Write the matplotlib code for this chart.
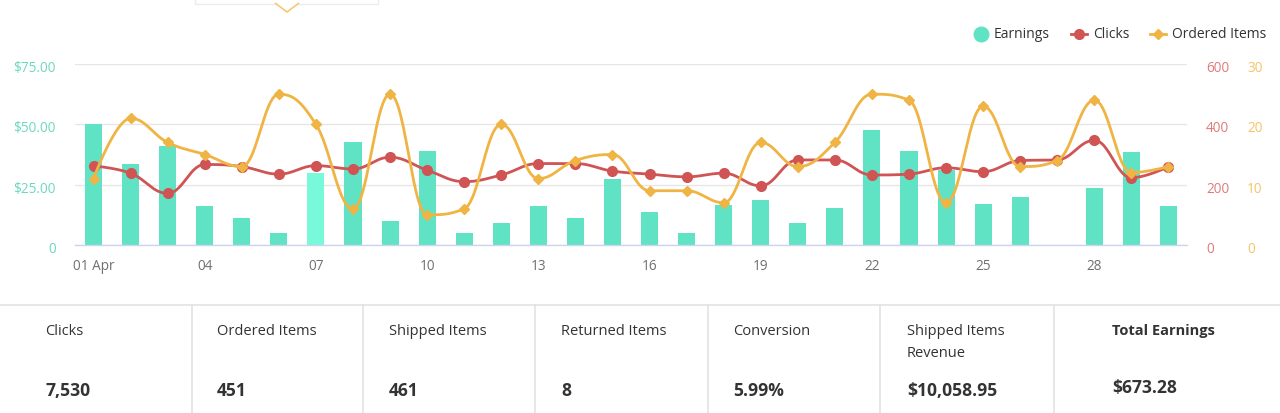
import numpy as np
import matplotlib
matplotlib.use("Agg")
import matplotlib.pyplot as plt
from matplotlib.lines import Line2D
from matplotlib.patches import Rectangle, Polygon
from matplotlib.transforms import ScaledTranslation

# ---------------- data ----------------
days = list(range(1, 31))
earnings = [50.1, 33.4, 41.0, 16.0, 11.0, 5.0, 29.8, 42.8, 9.9, 39.0,
            5.0, 9.1, 16.0, 11.0, 27.4, 13.5, 5.0, 16.6, 18.5, 9.1,
            15.5, 47.8, 39.0, 31.0, 17.0, 19.9, 0.0, 23.5, 38.4, 16.0]
clicks = [262, 238, 171, 267, 260, 235, 263, 252, 291, 248,
          210, 232, 270, 270, 245, 235, 226, 238, 196, 282,
          282, 232, 235, 256, 243, 280, 282, 347, 223, 260]
ordered = [11, 21, 17, 15, 13, 25, 20, 6, 25, 5,
           6, 20, 11, 14, 15, 9, 9, 7, 17, 13,
           17, 25, 24, 7, 23, 13, 14, 24, 12, 13]
highlight_day = 7
xtick_days = [1, 4, 7, 10, 13, 16, 19, 22, 25, 28]
xtick_labels = ["01 Apr", "04", "07", "10", "13", "16", "19", "22", "25", "28"]
left_ticks = [0, 25, 50, 75]
left_labels = ["0", "$25.00", "$50.00", "$75.00"]
clicks_ticks = [0, 200, 400, 600]
ordered_ticks = [0, 10, 20, 30]

stat_labels = ["Clicks", "Ordered Items", "Shipped Items", "Returned Items",
               "Conversion", "Shipped Items\nRevenue", "Total Earnings"]
stat_values = ["7,530", "451", "461", "8", "5.99%", "$10,058.95", "$673.28"]

# ---------------- style ----------------
W, H = 1280, 413
FONT = "Open Sans"
plt.rcParams["font.family"] = [FONT, "DejaVu Sans"]
TEAL = "#5fe3c4"
TEAL_HI = "#78f9da"
RED = "#d05454"
ORANGE = "#f0b444"
PX = 0.72  # points per pixel at 100 dpi

def fx(px):
    return px / W

def fy(py):
    return 1 - py / H


def hc_spline(xs, ys, n=30):
    """Highcharts-style spline (smoothing 1.5)."""
    xs = np.asarray(xs, float)
    ys = np.asarray(ys, float)
    m = len(xs)
    s = 1.5
    d = s + 1
    lcx = xs.copy(); lcy = ys.copy(); rcx = xs.copy(); rcy = ys.copy()
    for i in range(1, m - 1):
        px, py = xs[i], ys[i]
        lx, ly = xs[i - 1], ys[i - 1]
        nx, ny = xs[i + 1], ys[i + 1]
        a_x = (s * px + lx) / d; a_y = (s * py + ly) / d
        b_x = (s * px + nx) / d; b_y = (s * py + ny) / d
        if b_x != a_x:
            corr = (b_y - a_y) * (b_x - px) / (b_x - a_x) + py - b_y
            a_y += corr; b_y += corr
            if a_y > ly and a_y > py:
                a_y = max(ly, py); b_y = 2 * py - a_y
            elif a_y < ly and a_y < py:
                a_y = min(ly, py); b_y = 2 * py - a_y
            if b_y > ny and b_y > py:
                b_y = max(ny, py); a_y = 2 * py - b_y
            elif b_y < ny and b_y < py:
                b_y = min(ny, py); a_y = 2 * py - b_y
        lcx[i], lcy[i], rcx[i], rcy[i] = a_x, a_y, b_x, b_y
    t = np.linspace(0, 1, n)
    outx, outy = [xs[0]], [ys[0]]
    for i in range(1, m):
        p0 = (xs[i - 1], ys[i - 1]); p1 = (rcx[i - 1], rcy[i - 1])
        p2 = (lcx[i], lcy[i]); p3 = (xs[i], ys[i])
        bx = ((1 - t) ** 3 * p0[0] + 3 * (1 - t) ** 2 * t * p1[0]
              + 3 * (1 - t) * t ** 2 * p2[0] + t ** 3 * p3[0])
        by = ((1 - t) ** 3 * p0[1] + 3 * (1 - t) ** 2 * t * p1[1]
              + 3 * (1 - t) * t ** 2 * p2[1] + t ** 3 * p3[1])
        outx.extend(bx[1:]); outy.extend(by[1:])
    return np.array(outx), np.array(outy)


fig = plt.figure(figsize=(W / 100, H / 100), dpi=100)
fig.patch.set_facecolor("white")

ax = fig.add_axes([fx(75), fy(245), fx(1187) - fx(75), fy(64) - fy(245)])
ax2 = ax.twinx()
ax3 = ax.twinx()

# bars
bar_colors = [TEAL_HI if d == highlight_day else TEAL for d in days]
ax.bar(days, earnings, width=0.46, color=bar_colors, zorder=2)
ax.set_xlim(0.5, 30.5)
ax.set_ylim(0, 75)
ax.set_yticks(left_ticks)
ax.set_yticklabels(left_labels)
ax.set_xticks(xtick_days)
ax.set_xticklabels(xtick_labels)
ax.grid(axis="y", color="#e6e6e6", linewidth=1.0, zorder=0)
ax.set_axisbelow(True)
for sp in ["top", "right", "left"]:
    ax.spines[sp].set_visible(False)
ax.spines["bottom"].set_color("#ccd6eb")
ax.spines["bottom"].set_linewidth(1.0)
ax.tick_params(axis="both", length=0)
ax.tick_params(axis="y", pad=19 * PX, labelcolor="#6cd9bd", labelsize=9.8)
ax.tick_params(axis="x", pad=14 * PX, labelcolor="#707070", labelsize=9.8)

# clicks line
sx, sy = hc_spline(days, clicks)
ax2.plot(sx, sy, color=RED, linewidth=2.0, solid_capstyle="round", zorder=3)
ax2.plot(days, clicks, linestyle="none", marker="o", markersize=7,
         color=RED, zorder=4)
ax2.set_ylim(0, 600)
ax2.set_yticks(clicks_ticks)
ax2.tick_params(axis="y", length=0, pad=19 * PX, labelcolor="#df7b7b",
                labelsize=9.8)

# ordered items line
ox, oy = hc_spline(days, ordered)
ax3.plot(ox, oy, color=ORANGE, linewidth=2.0, solid_capstyle="round", zorder=3)
ax3.plot(days, ordered, linestyle="none", marker="D", markersize=5.5,
         color=ORANGE, zorder=4)
ax3.set_ylim(0, 30)
ax3.set_yticks(ordered_ticks)
ax3.tick_params(axis="y", length=0, pad=60 * PX, labelcolor="#f4c465",
                labelsize=9.8)

for a in (ax2, ax3):
    for sp in a.spines.values():
        sp.set_visible(False)
    a.set_xlim(0.5, 30.5)

# nudge y tick labels slightly down like the reference
shift = ScaledTranslation(0, -2.5 / 100, fig.dpi_scale_trans)
for a in (ax, ax2, ax3):
    for lab in a.get_yticklabels():
        lab.set_transform(lab.get_transform() + shift)

# legend (manual)
leg_y = fy(34)
fig.add_artist(Line2D([fx(981)], [leg_y], marker="o", markersize=10.5,
                      color=TEAL, linestyle="none", transform=fig.transFigure))
fig.text(fx(994), leg_y, "Earnings", fontsize=10, color="#333333",
         va="center", ha="left")
fig.add_artist(Line2D([fx(1071), fx(1087)], [leg_y, leg_y], color=RED,
                      linewidth=2.0, transform=fig.transFigure))
fig.add_artist(Line2D([fx(1079)], [leg_y], marker="o", markersize=7,
                      color=RED, linestyle="none", transform=fig.transFigure))
fig.text(fx(1093), leg_y, "Clicks", fontsize=10, color="#333333",
         va="center", ha="left")
fig.add_artist(Line2D([fx(1150), fx(1166)], [leg_y, leg_y], color=ORANGE,
                      linewidth=2.0, transform=fig.transFigure))
fig.add_artist(Line2D([fx(1158)], [leg_y], marker="D", markersize=5.5,
                      color=ORANGE, linestyle="none", transform=fig.transFigure))
fig.text(fx(1172), leg_y, "Ordered Items", fontsize=10, color="#333333",
         va="center", ha="left")

# cut-off tooltip at the top
fig.add_artist(Rectangle((fx(195), fy(4)), fx(378) - fx(195), fy(-10) - fy(4),
                         transform=fig.transFigure, facecolor="white",
                         edgecolor="#ececec", linewidth=1.0))
fig.add_artist(Polygon([(fx(275), fy(3)), (fx(287), fy(12)), (fx(299), fy(3))],
                       closed=False, transform=fig.transFigure,
                       facecolor="white", edgecolor="#f5c878", linewidth=1.2))

# stats table
fig.add_artist(Line2D([0, 1], [fy(305), fy(305)], color="#e3e3e3",
                      linewidth=1.2, transform=fig.transFigure))
for sx_ in [192, 363, 535, 708, 880, 1054]:
    fig.add_artist(Line2D([fx(sx_), fx(sx_)], [fy(305), 0], color="#e3e3e3",
                          linewidth=1.2, transform=fig.transFigure))
col_x = [45, 217, 389, 561, 733, 907, 1112]
for i, (lab, val) in enumerate(zip(stat_labels, stat_values)):
    bold = (i == len(stat_labels) - 1)
    fig.text(fx(col_x[i]), fy(324), lab, fontsize=10.5, color="#333333",
             va="top", ha="left", linespacing=1.65,
             fontweight="bold" if bold else "normal")
    vy = 388 if bold else 391
    fig.text(fx(col_x[i]), fy(vy), val, fontsize=12.6, color="#333333",
             va="center", ha="left", fontweight="bold")

fig.savefig("out.png", dpi=100, facecolor="white")
